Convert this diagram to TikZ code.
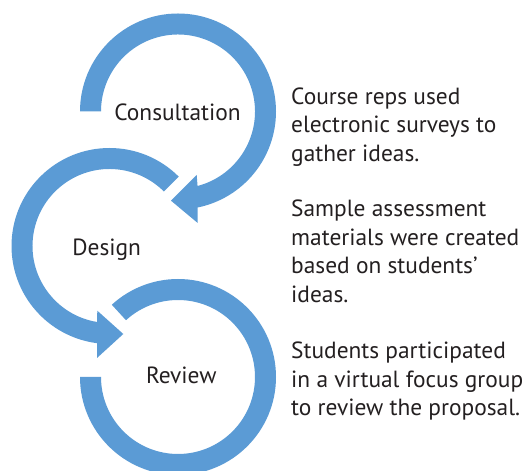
\documentclass[tikz,border=0pt]{standalone}
\usepackage{fontspec}
\setmainfont{PT Sans}
\usetikzlibrary{calc}
\definecolor{ringblue}{HTML}{5B9BD5}
\definecolor{txt}{HTML}{231F20}
\tikzset{
  ring/.style={fill=ringblue, draw=none},
  label/.style={font=\fontsize{23.4}{28.5}\selectfont, text=txt, inner sep=0pt, anchor=base},
  note/.style={font=\fontsize{23.4}{28.5}\selectfont, text=txt, inner sep=0pt, anchor=base west, align=left}
}
\begin{document}
\begin{tikzpicture}[x=1pt,y=1pt]
\useasboundingbox (0,0) rectangle (523,471);
\coordinate (C1) at (178,359.5);
\coordinate (C2) at (109.5,225);
\coordinate (C3) at (178,94);
% ring 1
\fill[ring] ($(C1)+(180:98)$) arc[start angle=180, end angle=-78.5, radius=98]
  -- (197.7,248) -- (171,270.3) -- (196.7,296)
  -- ($(C1)+(-75.3:77)$) arc[start angle=-75.3, end angle=180, radius=77] -- cycle;
% ring 2
\fill[ring] ($(C2)+(45:98)$) arc[start angle=45, end angle=262.7, radius=98]
  -- (97,113) -- (123.3,137) -- (97.3,160.3)
  -- ($(C2)+(260.7:77)$) arc[start angle=260.7, end angle=45, radius=77] -- cycle;
% ring 3
\fill[ring] ($(C3)+(180:98)$) arc[start angle=180, end angle=492.5, radius=98]
  -- ($(C3)+(492.5:77)$) arc[start angle=492.5, end angle=180, radius=77] -- cycle;
\node[label] (l1) at (177.5,350.3) {Consultation};
\node[label] (l2) at (106.7,215) {Design};
\node[label] (l3) at (181.3,87.7) {Review};
\node[note] (n1) at (291,309.5) {Course reps used\\electronic surveys to\\gather ideas.};
\node[note] (n2) at (291,168.5) {Sample assessment\\materials were created\\based on students’\\ideas.};
\node[note] (n3) at (291,55) {Students participated\\in a virtual focus group\\to review the proposal.};
\end{tikzpicture}
\end{document}
